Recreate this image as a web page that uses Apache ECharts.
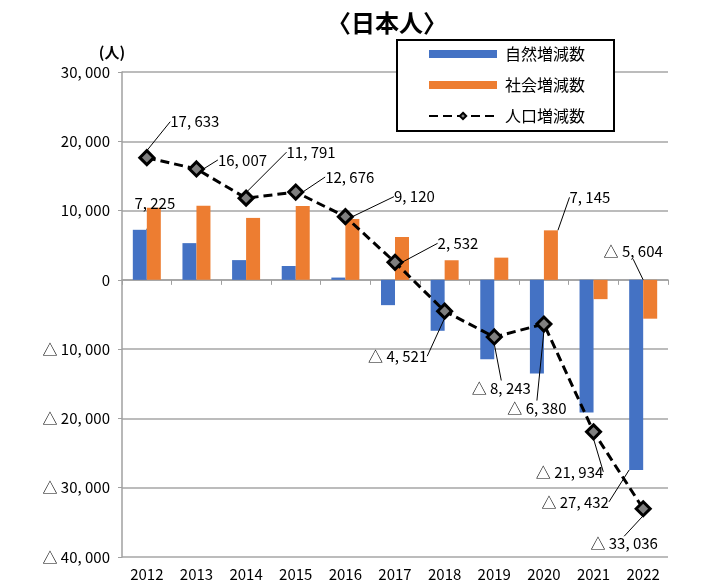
<!DOCTYPE html>
<html>
<head>
<meta charset="utf-8">
<script src="https://cdn.jsdelivr.net/npm/echarts@6/dist/echarts.min.js"></script>
<style>
  html, body { margin: 0; padding: 0; background: #fff; }
  #chart { width: 713px; height: 585px; }
</style>
</head>
<body>
<div id="chart"></div>
<script>
// データ
const years = ["2012", "2013", "2014", "2015", "2016", "2017", "2018", "2019", "2020", "2021", "2022"];
const natural = [7225, 5300, 2850, 2000, 330, -3650, -7350, -11450, -13525, -19150, -27432];
const social = [10408, 10707, 8941, 10676, 8790, 6182, 2829, 3207, 7145, -2784, -5604];
const total = [17633, 16007, 11791, 12676, 9120, 2532, -4521, -8243, -6380, -21934, -33036];

// 棒グラフのうちラベルを付けるもの
const naturalLabeled = [true, false, false, false, false, false, false, false, false, false, true];
const socialLabeled = [false, false, false, false, false, false, false, false, true, false, true];

// ラベル位置（目盛点からのずれ, px）
const totalLabelShift = [[48, -36], [46, -9], [65, -46], [54, -15], [69, -20], [63, -19],
  [-47, 45], [7, 51], [-7, 84], [-24, 40], [-19, 35]];
const naturalLabelShift = { 0: [15, -27], 10: [-61, 32] };
const socialLabelShift = { 8: [39, -33], 10: [-17, -67] };

const FONT = "'Noto Sans CJK JP', sans-serif";

function fmt(v) {
  const s = Math.abs(v).toLocaleString("en-US").replace(/,/g, ", ");
  return v < 0 ? "△ " + s : s;
}

function barLayout(values, shifts) {
  return function (p) {
    const sh = shifts[p.dataIndex];
    if (!sh) return {};
    const r = p.rect;
    const cx = r.x + r.width / 2;
    const cy = values[p.dataIndex] >= 0 ? r.y : r.y + r.height;
    return { x: cx + sh[0], y: cy + sh[1], align: "center", verticalAlign: "middle" };
  };
}

const chart = echarts.init(document.getElementById("chart"));

const option = {
  animation: false,
  textStyle: { fontFamily: FONT },
  title: {
    text: "〈日本人〉",
    left: 322,
    top: 6,
    textStyle: { fontFamily: FONT, fontSize: 24, fontWeight: "bold", color: "#000" }
  },
  legend: {
    orient: "vertical",
    left: 397,
    top: 40,
    padding: [6, 29, 7, 31],
    itemGap: 15,
    itemWidth: 68,
    itemHeight: 8,
    backgroundColor: "#fff",
    borderColor: "#000",
    borderWidth: 2,
    textStyle: { fontFamily: FONT, fontSize: 16, color: "#000", padding: [0, 0, 0, 3] },
    data: [
      { name: "自然増減数", icon: "rect" },
      { name: "社会増減数", icon: "rect" },
      { name: "人口増減数" }
    ]
  },
  grid: { left: 122, right: 45, top: 72, bottom: 28 },
  xAxis: [
    {
      type: "category",
      data: years,
      position: "bottom",
      axisLine: { onZero: true, lineStyle: { color: "#a0a0a0", width: 1.5 } },
      axisTick: { show: true, length: 5, lineStyle: { color: "#a0a0a0" } },
      axisLabel: { show: false }
    },
    {
      type: "category",
      data: years,
      position: "bottom",
      axisLine: { show: false, onZero: false },
      axisTick: { show: false },
      axisLabel: { margin: 10, fontSize: 15, color: "#000", fontFamily: FONT }
    }
  ],
  yAxis: {
    type: "value",
    min: -40000,
    max: 30000,
    interval: 10000,
    name: "(人)",
    nameLocation: "end",
    nameGap: 12,
    nameTextStyle: { fontFamily: FONT, fontSize: 15, fontWeight: "bold", color: "#000", padding: [0, 20, 0, 0] },
    axisLine: { show: true, lineStyle: { color: "#a0a0a0", width: 1.5 } },
    axisTick: { show: true, length: 4, lineStyle: { color: "#a0a0a0" } },
    axisLabel: { margin: 12, fontSize: 15, color: "#000", fontFamily: FONT, formatter: fmt },
    splitLine: { lineStyle: { color: "#a6a6a6", width: 1.5 } }
  },
  series: [
    {
      name: "自然増減数",
      type: "bar",
      barWidth: 14,
      barGap: "0%",
      itemStyle: { color: "#4472C4" },
      data: natural.map((v, i) => ({ value: v, label: { show: naturalLabeled[i] } })),
      label: {
        position: "top",
        fontSize: 15,
        color: "#000",
        fontFamily: FONT,
        formatter: (p) => fmt(p.value)
      },
      labelLine: { show: true, lineStyle: { color: "#000", width: 1 } },
      labelLayout: barLayout(natural, naturalLabelShift)
    },
    {
      name: "社会増減数",
      type: "bar",
      barWidth: 14,
      barGap: "0%",
      itemStyle: { color: "#ED7D31" },
      data: social.map((v, i) => ({ value: v, label: { show: socialLabeled[i] } })),
      label: {
        position: "top",
        fontSize: 15,
        color: "#000",
        fontFamily: FONT,
        formatter: (p) => fmt(p.value)
      },
      labelLine: { show: true, lineStyle: { color: "#000", width: 1 } },
      labelLayout: barLayout(social, socialLabelShift)
    },
    {
      name: "人口増減数",
      type: "line",
      z: 5,
      data: total,
      symbol: "diamond",
      symbolSize: 14,
      lineStyle: { color: "#000", width: 3, type: [9, 5] },
      itemStyle: { color: "#7f7f7f", borderColor: "#000", borderWidth: 3 },
      label: {
        show: true,
        position: "inside",
        fontSize: 15,
        color: "#000",
        fontFamily: FONT,
        formatter: (p) => fmt(p.value)
      },
      labelLine: { show: true, lineStyle: { color: "#000", width: 1 } },
      labelLayout: function (p) {
        const sh = totalLabelShift[p.dataIndex];
        const r = p.rect;
        return {
          x: r.x + r.width / 2 + sh[0],
          y: r.y + r.height / 2 + sh[1],
          align: "center",
          verticalAlign: "middle"
        };
      }
    }
  ]
};

chart.setOption(option);
</script>
</body>
</html>
